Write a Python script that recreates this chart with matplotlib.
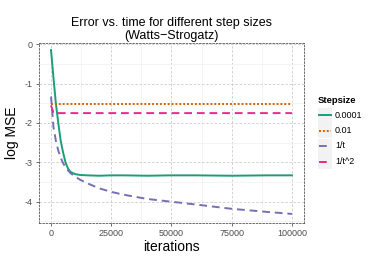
import matplotlib
matplotlib.use("Agg")
import matplotlib.pyplot as plt
from matplotlib.patches import Rectangle
from matplotlib.lines import Line2D

plt.rcParams["font.family"] = ["Liberation Sans", "DejaVu Sans"]

iterations = [0, 1000, 2000, 3000, 4000, 5000, 6000, 7000, 8000, 10000, 12000,
              15000, 20000, 25000, 30000, 40000, 50000, 60000, 75000, 90000, 100000]
mse_0001 = [-0.15, -0.85, -1.50, -2.00, -2.45, -2.75, -3.00, -3.15, -3.24, -3.30, -3.32,
            -3.33, -3.34, -3.33, -3.33, -3.34, -3.33, -3.33, -3.34, -3.33, -3.33]
mse_001 = [-1.53] * len(iterations)
mse_1t = [-1.33, -2.10, -2.45, -2.70, -2.88, -3.02, -3.12, -3.20, -3.27, -3.36, -3.44,
          -3.53, -3.66, -3.75, -3.82, -3.93, -4.00, -4.07, -4.18, -4.26, -4.31]
mse_1t2 = [-1.55, -1.75, -1.75, -1.75, -1.75, -1.75, -1.75, -1.75, -1.75, -1.75, -1.75,
           -1.75, -1.75, -1.75, -1.75, -1.75, -1.75, -1.75, -1.75, -1.75, -1.75]

labels = ["0.0001", "0.01", "1/t", "1/t^2"]
colors = ["#1B9E77", "#D95F02", "#7570B3", "#E7298A"]
styles = ["-", (0, (1, 1)), (0, (4, 2.5)), (0, (4, 2.5))]
series = [mse_0001, mse_001, mse_1t, mse_1t2]

xticks = [0, 25000, 50000, 75000, 100000]
yticks = [0, -1, -2, -3, -4]

fig = plt.figure(figsize=(3.88, 2.59), dpi=100)
ax = fig.add_axes([0.1005, 0.139, 0.683, 0.695])

for vals, c, ls in zip(series, colors, styles):
    ax.plot(iterations, vals, color=c, linestyle=ls, linewidth=1.4, zorder=3)

ax.set_xlim(-5000, 105000)
ax.set_ylim(-4.54, 0.03)
ax.set_xticks(xticks)
ax.set_xticklabels([str(v) for v in xticks])
ax.set_yticks(yticks)
ax.set_yticklabels([str(v) for v in yticks])
ax.set_xticks([12500, 37500, 62500, 87500], minor=True)
ax.set_yticks([-0.5, -1.5, -2.5, -3.5, -4.5], minor=True)

ax.grid(which="major", color="#CCCCCC", linestyle=(0, (3, 2)), linewidth=0.6)
ax.grid(which="minor", color="#F0F0F0", linestyle="-", linewidth=0.5)
ax.set_axisbelow(True)
ax.tick_params(which="major", length=2.5, width=0.5, color="#333333",
               labelsize=6.5, labelcolor="#4D4D4D", pad=2)
ax.tick_params(which="minor", length=0)
for sp in ax.spines.values():
    sp.set_linestyle((0, (2, 2)))
    sp.set_linewidth(0.6)
    sp.set_color("#555555")

ax.set_xlabel("iterations", fontsize=10, labelpad=1)
ax.set_ylabel("log MSE", fontsize=10, labelpad=4)
ax.set_title("Error vs. time for different step sizes\n(Watts\u2212Strogatz)",
             fontsize=9, linespacing=1.05, pad=3)

# legend
W, H = 388.0, 259.0
fig.text(317.5 / W, 1 - 100.5 / H, "Stepsize", fontsize=6.8, fontweight="bold",
         va="center", ha="left")
row_y = [115, 130.5, 146, 161.5]
for lab, c, ls, yy in zip(labels, colors, styles, row_y):
    fig.add_artist(Rectangle((317.5 / W, 1 - (yy + 7.5) / H), 14.5 / W, 15 / H,
                             transform=fig.transFigure, facecolor="#F2F2F2",
                             edgecolor="none"))
    fig.add_artist(Line2D([319 / W, 330.5 / W], [1 - yy / H, 1 - yy / H],
                          transform=fig.transFigure, color=c, linestyle=ls,
                          linewidth=1.4))
    fig.text(335 / W, 1 - yy / H, lab, fontsize=6.5, va="center", ha="left")

fig.savefig("out.png", dpi=100)
